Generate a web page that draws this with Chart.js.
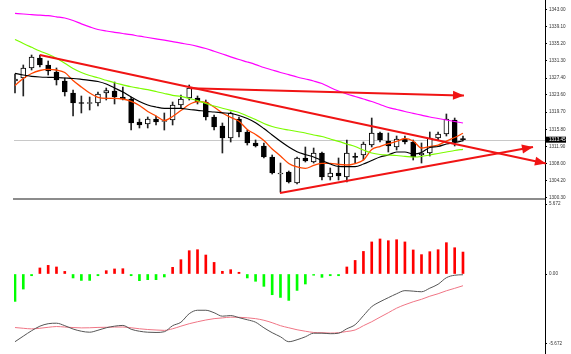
<!DOCTYPE html>
<html>
<head>
<meta charset="utf-8">
<script src="https://cdn.jsdelivr.net/npm/chart.js@4.4.1/dist/chart.umd.min.js"></script>
<style>
  html, body { margin: 0; padding: 0; background: #fff; }
  #wrap { position: relative; width: 571px; height: 354px; overflow: hidden; }
  #precos { position: absolute; left: 0; top: 0; }
  #macd { position: absolute; left: 0; top: 200px; }
</style>
</head>
<body>
<div id="wrap">
  <canvas id="precos" width="571" height="200"></canvas>
  <canvas id="macd" width="571" height="154"></canvas>
</div>
<script>
// velas (indice = posicao da vela)
const opens = [1326.75, 1327.43, 1329.70, 1331.96, 1330.38, 1328.79, 1326.75, 1324.03, 1321.76, 1321.65,
  1321.76, 1324.03, 1324.48, 1323.12, 1322.67, 1317.46, 1317.00, 1318.14, 1317.57, 1317.91,
  1321.31, 1322.90, 1322.90, 1321.99, 1318.59, 1316.55, 1313.83, 1318.14, 1315.19, 1312.70,
  1312.02, 1309.52, 1305.67, 1306.12, 1303.63, 1309.30, 1308.39, 1310.43, 1304.99, 1305.90,
  1304.99, 1309.52, 1309.98, 1312.24, 1314.96, 1313.15, 1311.79, 1313.60, 1312.92, 1309.98,
  1310.43, 1313.83, 1314.74, 1317.91, 1313.49];
const highs = [1328.34, 1330.38, 1332.64, 1332.64, 1331.28, 1329.70, 1327.43, 1324.71, 1323.35, 1323.12,
  1324.26, 1325.16, 1326.52, 1325.39, 1323.12, 1318.14, 1318.59, 1318.82, 1319.50, 1321.99,
  1323.58, 1325.84, 1323.35, 1322.44, 1319.04, 1317.23, 1319.72, 1318.59, 1315.64, 1313.38,
  1312.70, 1309.98, 1308.16, 1306.35, 1309.52, 1311.79, 1311.56, 1310.66, 1307.03, 1309.30,
  1313.38, 1310.43, 1312.92, 1318.36, 1315.19, 1314.96, 1314.28, 1314.28, 1313.38, 1312.70,
  1315.19, 1315.19, 1319.27, 1318.36, 1314.28];
const lows = [1324.03, 1323.35, 1329.24, 1329.92, 1328.11, 1325.84, 1323.35, 1318.82, 1319.50, 1320.18,
  1321.08, 1322.44, 1321.54, 1322.44, 1315.64, 1316.10, 1316.10, 1316.78, 1315.64, 1316.78,
  1320.63, 1322.44, 1321.54, 1317.91, 1315.64, 1310.43, 1312.92, 1314.06, 1312.24, 1311.79,
  1309.30, 1305.67, 1301.59, 1303.63, 1303.40, 1308.39, 1308.16, 1304.31, 1304.31, 1304.31,
  1303.86, 1308.16, 1308.84, 1311.79, 1312.92, 1310.66, 1311.11, 1312.47, 1308.84, 1308.16,
  1309.75, 1313.38, 1314.28, 1312.02, 1313.15];
const closes = [1327.20, 1329.70, 1332.19, 1330.38, 1329.02, 1326.98, 1324.26, 1321.76, 1321.65, 1321.76,
  1323.80, 1324.60, 1323.12, 1322.67, 1317.23, 1316.78, 1318.14, 1317.46, 1317.80, 1321.31,
  1322.67, 1325.16, 1321.99, 1318.59, 1316.32, 1313.83, 1319.50, 1315.19, 1312.70, 1312.02,
  1309.52, 1305.90, 1305.90, 1303.86, 1309.30, 1308.62, 1310.43, 1304.99, 1305.90, 1305.22,
  1310.43, 1309.45, 1312.47, 1314.96, 1313.38, 1312.02, 1313.60, 1312.92, 1309.52, 1310.43,
  1313.83, 1314.74, 1318.14, 1312.92, 1313.45];

// medias moveis
const mediaMagenta = [1342.09, 1341.94, 1341.78, 1341.66, 1341.55, 1341.30, 1341.03, 1340.46, 1339.71, 1339.03,
  1338.42, 1338.08, 1337.79, 1337.52, 1337.24, 1336.90, 1336.61, 1336.31, 1336.00, 1335.66,
  1335.32, 1335.02, 1334.61, 1334.12, 1333.50, 1332.87, 1332.23, 1331.62, 1331.06, 1330.47,
  1329.81, 1329.24, 1328.68, 1328.18, 1327.66, 1327.20, 1326.75, 1326.18, 1325.28, 1324.48,
  1323.80, 1323.24, 1322.67, 1322.10, 1321.42, 1320.74, 1320.29, 1319.84, 1319.43, 1319.00,
  1318.59, 1318.25, 1317.91, 1317.57, 1317.23];
const mediaVerde = [1336.16, 1335.25, 1334.39, 1333.55, 1332.80, 1331.89, 1330.76, 1329.58, 1328.68, 1328.00,
  1327.48, 1326.91, 1326.36, 1325.89, 1325.44, 1325.10, 1324.78, 1324.37, 1323.92, 1323.51,
  1323.26, 1322.78, 1322.33, 1321.65, 1321.08, 1320.58, 1320.11, 1319.61, 1318.82, 1318.02,
  1317.12, 1316.44, 1315.98, 1315.64, 1315.30, 1314.96, 1314.51, 1314.17, 1313.60, 1313.08,
  1312.47, 1311.90, 1311.11, 1310.43, 1310.09, 1309.98, 1309.86, 1309.68, 1309.52, 1309.64,
  1309.98, 1310.32, 1310.66, 1311.00, 1311.27];
const mediaPreta = [1328.49, 1328.11, 1327.81, 1327.66, 1327.59, 1327.54, 1327.43, 1327.32, 1327.13, 1326.91,
  1326.64, 1326.07, 1325.16, 1324.26, 1323.12, 1322.10, 1321.31, 1320.86, 1320.56, 1320.56,
  1320.56, 1320.29, 1320.11, 1319.88, 1319.72, 1319.54, 1319.38, 1318.93, 1318.25, 1317.30,
  1315.98, 1314.51, 1313.08, 1311.79, 1310.73, 1310.09, 1309.52, 1308.73, 1307.94, 1307.37,
  1307.33, 1307.33, 1307.94, 1308.73, 1309.52, 1309.98, 1310.66, 1310.66, 1310.20, 1310.54,
  1311.68, 1311.90, 1312.47, 1312.81, 1313.20];
const mediaLaranja = [1325.73, 1327.32, 1328.45, 1329.13, 1329.40, 1329.24, 1328.68, 1326.86, 1325.39, 1324.03,
  1323.06, 1322.83, 1322.83, 1322.67, 1322.15, 1321.20, 1319.84, 1318.82, 1317.80, 1318.70,
  1320.06, 1321.42, 1322.06, 1321.88, 1320.86, 1319.50, 1318.52, 1317.62, 1315.76, 1314.62,
  1313.26, 1311.34, 1309.75, 1308.05, 1307.26, 1306.96, 1307.60, 1308.10, 1308.10, 1307.82,
  1307.71, 1308.05, 1308.84, 1311.22, 1311.90, 1312.54, 1313.08, 1313.72, 1313.15, 1311.56,
  1311.90, 1312.24, 1313.15, 1313.94, 1314.90];

// linhas de tendencia (indice da vela, preco)
const tendenciaBaixa = [{ x: 3.01, y: 1332.64 }, { x: 64.0, y: 1308.05 }];
const tendenciaPlana = [{ x: 21.09, y: 1325.10 }, { x: 54.12, y: 1323.46 }];
const tendenciaAlta = [{ x: 31.94, y: 1301.36 }, { x: 62.44, y: 1311.79 }];

// painel inferior
const histograma = [-2.22, -1.22, -0.14, 0.49, 0.70, 0.57, 0.21, -0.32, -0.52, -0.52,
  -0.14, 0.27, 0.41, 0.43, -0.14, -0.54, -0.46, -0.46, -0.24, 0.54,
  1.16, 1.89, 1.97, 1.54, 0.94, 0.22, 0.35, 0.14, -0.32, -0.59,
  -1.00, -1.68, -1.90, -2.14, -1.33, -0.81, -0.10, -0.27, -0.14, -0.14,
  0.57, 1.10, 1.83, 2.60, 2.84, 2.70, 2.78, 2.60, 1.95, 1.57,
  1.81, 1.97, 2.54, 2.13, 1.78];
const sinalPreto = [-5.49, -5.04, -4.60, -4.23, -4.03, -3.99, -4.19, -4.46, -4.64, -4.72,
  -4.56, -4.36, -4.23, -4.17, -4.48, -4.64, -4.72, -4.74, -4.68, -4.19,
  -3.91, -3.22, -2.94, -2.94, -3.14, -3.42, -3.37, -3.54, -3.71, -3.91,
  -4.36, -4.76, -5.09, -5.49, -5.33, -5.09, -4.80, -4.80, -4.84, -4.80,
  -4.44, -4.11, -3.38, -2.65, -2.25, -1.92, -1.60, -1.35, -1.39, -1.44,
  -1.15, -0.83, -0.30, -0.10, -0.06];
const sinalRosa = [-4.34, -4.40, -4.45, -4.40, -4.32, -4.26, -4.30, -4.34, -4.37, -4.36,
  -4.33, -4.32, -4.30, -4.30, -4.36, -4.44, -4.50, -4.54, -4.57, -4.44,
  -4.23, -4.03, -3.87, -3.73, -3.62, -3.56, -3.50, -3.51, -3.55, -3.62,
  -3.75, -3.95, -4.19, -4.36, -4.52, -4.64, -4.74, -4.76, -4.79, -4.76,
  -4.66, -4.54, -4.19, -3.87, -3.50, -3.14, -2.77, -2.49, -2.25, -2.05,
  -1.80, -1.60, -1.36, -1.16, -0.95];

const precoTicks = [1343.00, 1339.10, 1335.20, 1331.30, 1327.40, 1323.60, 1319.70, 1315.80, 1311.90, 1308.00, 1304.20, 1300.30];
const macdTicks = [5.672, 0, -5.672];
const macdRotulos = ['5.672', '0.00', '-5.672'];

const X_MIN = -0.12;
const X_MAX = 63.886;
const VERMELHO = '#f01414';
const fonteEixo = { family: 'Liberation Sans', size: 4.6 };

const pontos = (serie) => serie.map((v, i) => ({ x: i, y: v }));

const eixoX = (extra) => Object.assign({ type: 'linear', min: X_MIN, max: X_MAX, offset: false }, extra);

const eixoDireita = (min, max, valores, rotulos) => ({
    position: 'right',
    min: min,
    max: max,
    afterBuildTicks: (s) => { s.ticks = valores.map((v) => ({ value: v })); },
    afterFit: (s) => { s.width = 26; s.paddingTop = 0; s.paddingBottom = 0; },
    ticks: {
        font: fonteEixo,
        color: '#333',
        padding: 2,
        autoSkip: false,
        callback: (v, i) => (rotulos ? rotulos[i] : Number(v).toFixed(2))
    },
    grid: { drawOnChartArea: false, tickLength: 2, color: '#000' },
    border: { color: '#000', width: 1 }
});

const linha = (dados, cor, largura, ordem) => ({
    type: 'line',
    data: dados,
    borderColor: cor,
    borderWidth: largura,
    pointRadius: 0,
    cubicInterpolationMode: 'monotone',
    order: ordem
});

const setas = {
    id: 'setas',
    afterDatasetsDraw(chart) {
        const ctx = chart.ctx;
        chart.data.datasets.forEach((ds, i) => {
            if (!ds.seta) return;
            const pts = chart.getDatasetMeta(i).data;
            const a = pts[pts.length - 2];
            const b = pts[pts.length - 1];
            const ang = Math.atan2(b.y - a.y, b.x - a.x);
            ctx.save();
            ctx.fillStyle = ds.borderColor;
            ctx.translate(b.x, b.y);
            ctx.rotate(ang);
            ctx.beginPath();
            ctx.moveTo(0, 0);
            ctx.lineTo(-11, -4.5);
            ctx.lineTo(-11, 4.5);
            ctx.closePath();
            ctx.fill();
            ctx.restore();
        });
    }
};

const precoAtual = {
    id: 'precoAtual',
    beforeDatasetsDraw(chart) {
        const { ctx, chartArea } = chart;
        const y = Math.round(chart.scales.y.getPixelForValue(closes[closes.length - 1])) + 0.5;
        ctx.save();
        ctx.strokeStyle = '#c8c8c8';
        ctx.lineWidth = 1;
        ctx.beginPath();
        ctx.moveTo(chartArea.left, y);
        ctx.lineTo(chartArea.right, y);
        ctx.stroke();
        ctx.restore();
    },
    afterDraw(chart) {
        const { ctx, chartArea } = chart;
        const ultimo = closes[closes.length - 1];
        const y = chart.scales.y.getPixelForValue(ultimo);
        ctx.save();
        ctx.fillStyle = '#000';
        ctx.fillRect(chartArea.right + 1, y - 3, 20, 6);
        ctx.fillStyle = '#fff';
        ctx.font = '4.6px "Liberation Sans"';
        ctx.textBaseline = 'middle';
        ctx.fillText(ultimo.toFixed(2), chartArea.right + 4, y);
        ctx.restore();
    }
};

new Chart(document.getElementById('precos'), {
    type: 'bar',
    data: {
        datasets: [
            Object.assign(linha(tendenciaBaixa, VERMELHO, 2, 0), { seta: true, clip: 10 }),
            Object.assign(linha(tendenciaPlana, VERMELHO, 2, 0), { seta: true, clip: 10 }),
            Object.assign(linha(tendenciaAlta, VERMELHO, 2, 0), { seta: true, clip: 10 }),
            linha(pontos(mediaMagenta), '#ff00ff', 1.2, 1),
            linha(pontos(mediaVerde), '#7cfc00', 1.2, 1),
            linha(pontos(mediaPreta), '#000000', 1.2, 1),
            linha(pontos(mediaLaranja), '#ff4500', 1.3, 1),
            {
                label: 'corpos',
                data: opens.map((o, i) => ({ x: i, y: [o, closes[i]] })),
                backgroundColor: opens.map((o, i) => (closes[i] >= o ? '#ffffff' : '#000000')),
                borderColor: '#000',
                borderWidth: 1,
                borderSkipped: false,
                barThickness: 5,
                minBarLength: 1,
                grouped: false,
                order: 2
            },
            {
                label: 'pavios',
                data: highs.map((h, i) => ({ x: i, y: [lows[i], h] })),
                backgroundColor: '#222',
                barThickness: 1,
                grouped: false,
                order: 3
            }
        ]
    },
    options: {
        responsive: false,
        animation: false,
        events: [],
        layout: { padding: { left: 14, top: 0, right: 0, bottom: 0 } },
        plugins: { legend: { display: false }, tooltip: { enabled: false } },
        scales: {
            x: eixoX({
                ticks: { display: false },
                grid: { display: false },
                border: { color: '#8c8c8c', width: 2 },
                afterFit: (s) => { s.height = 1; s.paddingLeft = 0; s.paddingRight = 0; }
            }),
            y: eixoDireita(1300.005, 1345.108, precoTicks, null)
        }
    },
    plugins: [setas, precoAtual]
});

new Chart(document.getElementById('macd'), {
    type: 'bar',
    data: {
        datasets: [
            linha(pontos(sinalPreto), '#555555', 1, 0),
            linha(pontos(sinalRosa), '#f07585', 1, 0),
            {
                label: 'histograma',
                data: pontos(histograma),
                backgroundColor: histograma.map((v) => (v >= 0 ? '#ff0000' : '#00ff00')),
                barThickness: 2,
                grouped: false,
                order: 2
            }
        ]
    },
    options: {
        responsive: false,
        animation: false,
        events: [],
        layout: { padding: { left: 14, top: 0, right: 0, bottom: 0 } },
        plugins: { legend: { display: false }, tooltip: { enabled: false } },
        scales: {
            x: eixoX({ display: false }),
            y: eixoDireita(-6.486, 6, macdTicks, macdRotulos)
        }
    }
});
</script>
</body>
</html>
